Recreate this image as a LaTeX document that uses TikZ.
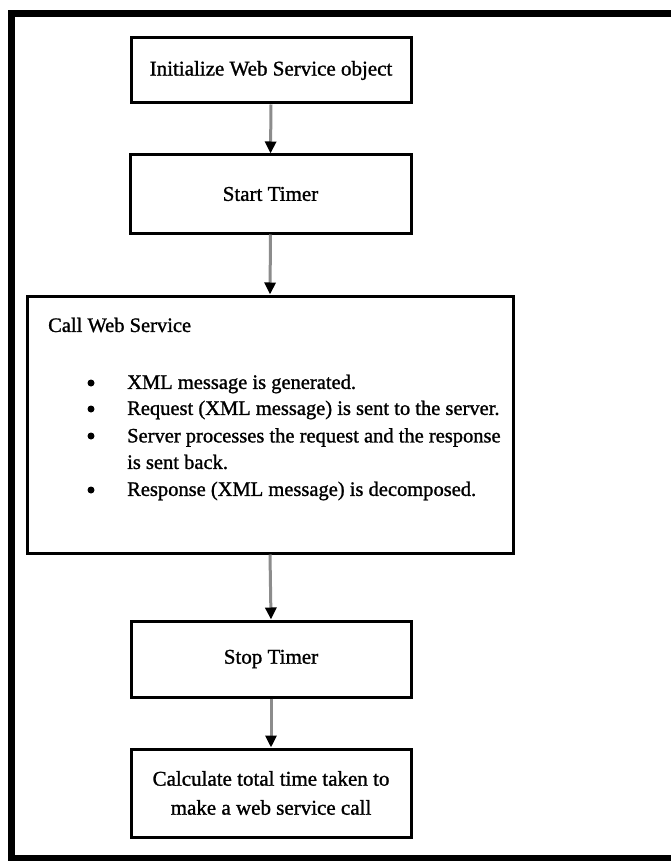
\documentclass[tikz,border=0pt]{standalone}
\usepackage{fontspec}
\setmainfont[FakeBold=1.2]{Liberation Serif}
\usetikzlibrary{arrows.meta}

\tikzset{
  stepbox/.style={draw=black, line width=3pt, fill=white, inner sep=0pt,
                  align=center, font=\fontsize{21}{29}\selectfont},
  flow/.style={draw=gray!90, line width=3pt,
               -{Triangle[color=black, width=11pt, length=12pt]}},
  bodytext/.style={anchor=west, inner sep=0pt, font=\fontsize{20.5}{26.5}\selectfont},
  dot/.style={circle, fill=black, inner sep=0pt, minimum size=7pt}
}

\begin{document}
\begin{tikzpicture}[x=1pt, y=-1pt]
  \useasboundingbox (0,0) rectangle (671,861);
  \fill[white] (0,0) rectangle (671,861);

  % outer frame, open on the right
  \draw[line width=7pt] (690,13.5) -- (11,13.5) -- (11,858) -- (690,858);

  % process steps
  \node[stepbox, minimum width=280pt, minimum height=65pt] (init) at (271,70.5)
       {Initialize Web Service object};
  \node[stepbox, minimum width=281pt, minimum height=78pt] (start) at (270.5,194)
       {Start Timer};
  \node[stepbox, minimum width=486pt, minimum height=257pt] (call) at (270,424.5) {};
  \node[stepbox, minimum width=280pt, minimum height=76pt] (stop) at (271,659)
       {Stop Timer};
  \node[stepbox, minimum width=280pt, minimum height=88pt] (calc) at (271,793)
       {Calculate total time taken to\\make a web service call};

  % contents of the web service call step
  \node[bodytext] (calltitle) at (48,325) {Call Web Service};
  \node[dot] (b1) at (91,383) {};
  \node[dot] (b2) at (91,409) {};
  \node[dot] (b3) at (91,436) {};
  \node[dot] (b4) at (91,490) {};
  \node[bodytext] (t1) at (127,384) {XML message is generated.};
  \node[bodytext] (t2) at (127,410) {Request (XML message) is sent to the server.};
  \node[bodytext, anchor=north west, align=left] (t3) at (127,428)
       {Server processes the request and the response\\is sent back.};
  \node[bodytext] (t4) at (127,491) {Response (XML message) is decomposed.};

  % connectors
  \draw[flow] (init.south) -- (start.north);
  \draw[flow] (start.south) -- (call.north);
  \draw[flow] (call.south) -- (stop.north);
  \draw[flow] (stop.south) -- (calc.north);
\end{tikzpicture}
\end{document}
